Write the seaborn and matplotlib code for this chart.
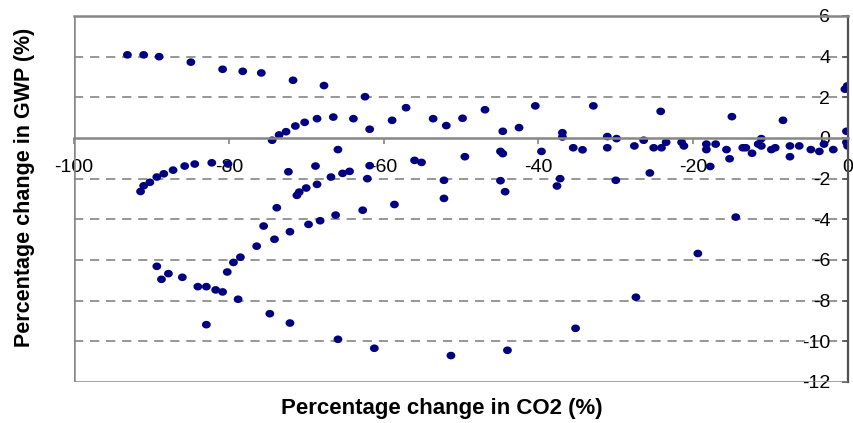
import numpy as np
import pandas as pd
import matplotlib
matplotlib.use("Agg")
import matplotlib.pyplot as plt
import seaborn as sns

# Percentage change in CO2 emissions (x) and in GWP (y) for each scenario
co2_change = [
    -93.1, -91.0, -89.0, -84.9, -80.8, -78.2, -75.8, -71.7, -67.7,
    -74.4, -73.5, -72.6, -71.4, -70.2, -68.6, -66.5, -63.9,
    -62.4, -61.8, -58.9, -57.1, -53.6, -51.9, -49.8, -46.9, -44.6, -42.5,
    -40.4, -36.9, -36.9, -32.9, -31.1, -29.9, -27.6, -26.4,
    -82.2, -80.1, -84.4, -85.7, -87.2, -88.4, -89.3, -90.2, -91.0, -91.4,
    -65.9, -72.3, -68.8, -65.3, -64.4, -66.8, -68.6, -70.0, -70.9, -71.2,
    -61.8, -62.1, -56.0, -55.1, -52.2, -52.2, -49.5, -44.9, -44.6, -44.9,
    -44.3, -39.6, -37.2, -37.6, -35.5, -34.3, -31.1, -30.0,
    -73.8, -75.5, -74.1, -72.1, -69.7, -68.2, -66.2, -62.7, -58.6,
    -76.4, -78.5, -79.4, -80.2, -89.3, -88.7, -87.8, -86.0, -84.0, -82.9,
    -81.7, -80.8, -78.8, -82.9, -74.7, -72.1, -65.9, -61.2, -51.3, -44.0,
    -35.2, -27.4, -19.4, -14.5,
    -25.6, -25.1, -24.1, -24.2, -23.5, -21.5, -21.2, -18.3, -18.3, -17.1,
    -17.8, -15.7, -15.3, -15.0, -13.6, -13.2, -12.4, -11.6, -11.2, -11.2,
    -9.9, -9.4, -8.4, -7.5, -7.5, -6.3, -4.8, -3.7, -3.1, -1.9,
    -0.4, -0.1, -0.2, -0.2, -0.05,
]
gwp_change = [
    4.09, 4.09, 4.00, 3.73, 3.38, 3.28, 3.20, 2.84, 2.58,
    -0.11, 0.15, 0.31, 0.59, 0.77, 0.95, 1.03, 0.95,
    2.03, 0.43, 0.87, 1.49, 0.95, 0.61, 0.97, 1.39, 0.33, 0.51,
    1.58, 0.26, 0.05, 1.58, 0.07, -0.03, -0.39, -0.11,
    -1.22, -1.28, -1.28, -1.38, -1.58, -1.76, -1.92, -2.18, -2.35, -2.63,
    -0.57, -1.66, -1.38, -1.74, -1.64, -1.92, -2.28, -2.46, -2.66, -2.82,
    -1.36, -2.00, -1.10, -1.20, -2.08, -2.97, -0.92, -0.66, -0.77, -2.10,
    -2.64, -0.66, -2.00, -2.36, -0.48, -0.58, -0.48, -2.08,
    -3.43, -4.33, -4.98, -4.61, -4.25, -4.07, -3.79, -3.55, -3.27,
    -5.32, -5.86, -6.12, -6.59, -6.31, -6.95, -6.67, -6.85, -7.31, -7.31,
    -7.47, -7.57, -7.93, -9.18, -8.64, -9.10, -9.90, -10.34, -10.70, -10.44,
    -9.36, -7.83, -5.68, -3.89,
    -1.72, -0.48, -0.48, 1.31, -0.21, -0.21, -0.39, -0.30, -0.57, -0.30,
    -1.40, -0.57, -1.02, 1.05, -0.48, -0.48, -0.75, -0.30, -0.03, -0.39,
    -0.57, -0.48, 0.87, -0.39, -0.92, -0.39, -0.57, -0.66, -0.30, -0.57,
    2.40, 2.56, 0.33, -0.21, -0.39,
]

x_ticks = [-100, -80, -60, -40, -20, 0]
y_ticks = [-12, -10, -8, -6, -4, -2, 0, 2, 4, 6]
grid_levels = [-10, -8, -6, -4, -2, 2, 4]

df = pd.DataFrame({"co2": co2_change, "gwp": gwp_change})

sns.set_theme(style="white")
plt.rcParams["font.family"] = ["Liberation Sans", "DejaVu Sans"]
plt.rcParams["axes.unicode_minus"] = False
plt.rcParams["text.color"] = "black"
plt.rcParams["axes.labelcolor"] = "black"

W, H = 854, 423
fig = plt.figure(figsize=(W / 100, H / 100), dpi=100)
ax = fig.add_axes([74 / W, (H - 382) / H, 774 / W, 366 / H])

frame_grey = "#868686"
grid_grey = "#7a7a7a"

# dashed horizontal gridlines
for g in grid_levels:
    ax.axhline(g, color=grid_grey, lw=1.1, ls=(0, (6, 4.5)), zorder=0.5)

# slightly wide elliptical markers
t = np.linspace(0, 2 * np.pi, 41)
ellipse = np.column_stack([1.15 * np.cos(t), np.sin(t)])

sns.scatterplot(data=df, x="co2", y="gwp", ax=ax, marker=ellipse, s=40,
                color="#000080", edgecolor="none", linewidth=0, zorder=2,
                legend=False)

ax.set_xlim(-100, 0)
ax.set_ylim(-12, 6)
ax.set_xticks(x_ticks)
ax.set_yticks(y_ticks)
ax.set_xticklabels([str(v) for v in x_ticks])
ax.set_yticklabels([str(v) for v in y_ticks])

# axes cross at the origin: y axis at x = 0, x axis at y = 0
ax.spines["left"].set_position(("data", 0))
ax.spines["bottom"].set_position(("data", 0))
ax.spines["left"].set_color("#505050")
ax.spines["left"].set_linewidth(1.6)
ax.spines["bottom"].set_color(frame_grey)
ax.spines["bottom"].set_linewidth(1.8)
ax.spines["top"].set_color(frame_grey)
ax.spines["top"].set_linewidth(1.8)
ax.spines["right"].set_visible(False)

# remaining plot-area border
ax.axvline(-100, color=frame_grey, lw=1.8, zorder=3)
ax.axhline(-12, color=frame_grey, lw=1.8, zorder=3)

ax.tick_params(axis="x", direction="out", length=4.3, width=1.2,
               color=frame_grey, pad=10.5, labelsize=14, labelcolor="black",
               bottom=True)
ax.tick_params(axis="y", direction="out", length=4.3, width=1.2,
               color="#505050", pad=8.5, labelsize=14, labelcolor="black",
               left=True)
for lbl in ax.get_xticklabels() + ax.get_yticklabels():
    lbl.set_clip_on(False)

ax.set_xlabel("Percentage change in CO2 (%)", fontsize=16, fontweight="bold",
              color="black")
ax.set_ylabel("Percentage change in GWP (%)", fontsize=15.5, fontweight="bold",
              color="black")
ax.xaxis.set_label_coords(0.475, -0.045)
ax.yaxis.set_label_coords(-0.05, 0.531)

fig.savefig("out.png", dpi=100)
